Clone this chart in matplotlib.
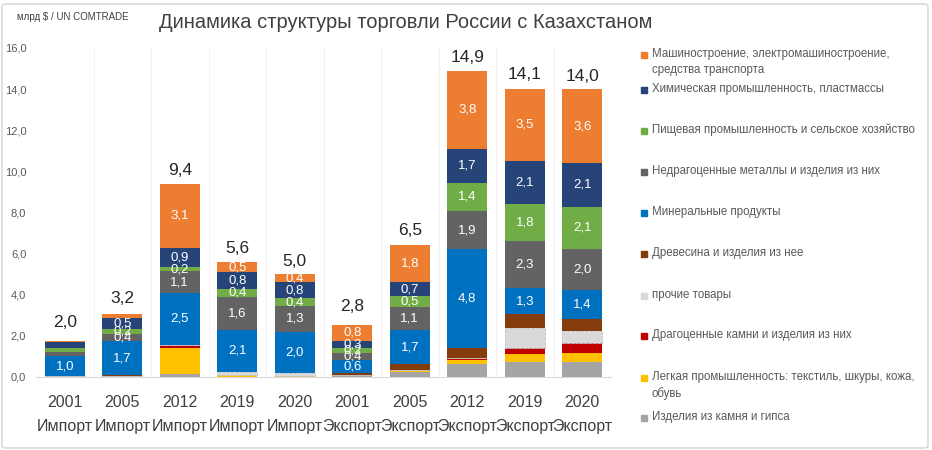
import numpy as np
import matplotlib
matplotlib.use('Agg')
import matplotlib.pyplot as plt
from matplotlib.patches import Rectangle, FancyBboxPatch

plt.rcParams['font.family'] = ['Liberation Sans', 'DejaVu Sans']

# data
bars = ['2001\nИмпорт', '2005\nИмпорт', '2012\nИмпорт', '2019\nИмпорт', '2020\nИмпорт',
        '2001\nЭкспорт', '2005\nЭкспорт', '2012\nЭкспорт', '2019\nЭкспорт', '2020\nЭкспорт']
totals = [2.0, 3.2, 9.4, 5.6, 5.0, 2.8, 6.5, 14.9, 14.1, 14.0]

stone = [0, 0, 0.16, 0, 0, 0.08, 0.24, 0.65, 0.71, 0.71]
light_ind = [0.03, 0.04, 1.27, 0.08, 0.05, 0.03, 0.08, 0.2, 0.42, 0.45]
precious = [0, 0, 0.15, 0, 0, 0, 0, 0.05, 0.29, 0.49]
other = [0, 0, 0, 0.16, 0.16, 0, 0, 0, 0.97, 0.57]
wood = [0, 0.04, 0, 0, 0, 0.1, 0.29, 0.49, 0.65, 0.62]
mineral = [1.0, 1.66, 2.5, 2.06, 1.98, 0.6, 1.69, 4.82, 1.28, 1.4]
metals = [0.2, 0.36, 1.07, 1.6, 1.27, 0.37, 1.1, 1.87, 2.27, 1.98]
food = [0.2, 0.24, 0.2, 0.4, 0.37, 0.23, 0.54, 1.36, 1.83, 2.06]
chem = [0.28, 0.52, 0.93, 0.8, 0.78, 0.34, 0.66, 1.67, 2.07, 2.14]
machinery = [0.05, 0.18, 3.13, 0.47, 0.39, 0.78, 1.8, 3.76, 3.54, 3.57]

# bottom to top
series = [
    ('Изделия из камня и гипса', stone, '#A5A5A5', False),
    ('Легкая промышленность: текстиль, шкуры, кожа,\nобувь', light_ind, '#FFC000', False),
    ('Драгоценные камни и изделия из них', precious, '#C00000', False),
    ('прочие товары', other, '#D9D9D9', False),
    ('Древесина и изделия из нее', wood, '#843C0C', False),
    ('Минеральные продукты', mineral, '#0070C0', True),
    ('Недрагоценные металлы и изделия из них', metals, '#636363', True),
    ('Пищевая промышленность и сельское хозяйство', food, '#70AD47', True),
    ('Химическая промышленность, пластмассы', chem, '#264478', True),
    ('Машиностроение, электромашиностроение,\nсредства транспорта', machinery, '#ED7D31', True),
]

fig = plt.figure(figsize=(9.32, 4.5), dpi=100)
W, H = 932, 450
ax = fig.add_axes([36 / W, 1 - 377 / H, 575 / W, 329 / H])

x = np.arange(len(bars))
bottom = np.zeros(len(bars))
for name, vals, col, lab in series:
    vals = np.array(vals, dtype=float)
    if name == 'прочие товары':
        ax.bar(x, vals, 0.69, bottom=bottom, color=col, edgecolor='#BFBFBF',
               linewidth=0.6, linestyle='--', zorder=3)
    else:
        ax.bar(x, vals, 0.69, bottom=bottom, color=col, zorder=3)
    if lab:
        for i, v in enumerate(vals):
            if v >= 0.2 and i != 0 or (i == 0 and name == 'Минеральные продукты'):
                ax.text(x[i], bottom[i] + v / 2, f'{v:.1f}'.replace('.', ','),
                        ha='center', va='center', color='white', fontsize=9.5, zorder=4)
    bottom += vals

for i, t in enumerate(totals):
    ax.annotate(f'{t:.1f}'.replace('.', ','), (x[i], t), xytext=(0, 4),
                textcoords='offset points', ha='center', va='bottom',
                fontsize=12.5, color='#262626')

ax.set_xlim(-0.5, len(bars) - 0.5)
ax.set_ylim(0, 16)
ax.set_yticks(np.arange(0, 17, 2))
ax.set_yticklabels([f'{v:.1f}'.replace('.', ',') for v in np.arange(0, 17, 2)])
ax.tick_params(axis='y', length=0, labelsize=8, labelcolor='#595959', pad=7)
ax.set_xticks(x)
ax.set_xticklabels(bars)
ax.tick_params(axis='x', length=0, labelsize=11.5, labelcolor='#404040', pad=13)
for lbl in ax.get_xticklabels():
    lbl.set_linespacing(1.75)
for xv in np.arange(0.5, len(bars) - 0.5, 1):
    ax.axvline(xv, color='#F2F2F2', linewidth=0.8, zorder=0)
for s in ['top', 'right', 'left']:
    ax.spines[s].set_visible(False)
ax.spines['bottom'].set_color('#D9D9D9')

fig.text((160 + 652) / 2 / W, 1 - 22 / H, 'Динамика структуры торговли России с Казахстаном',
         ha='center', va='center', fontsize=14.5, color='#404040')
fig.text(17 / W, 1 - 17 / H, 'млрд $ / UN COMTRADE', ha='left', va='center',
         fontsize=7, color='#404040')

# legend drawn by hand, top to bottom
leg_y = [55, 90, 131, 172, 213, 254, 296, 336, 378, 418]
for (name, vals, col, lab), yy in zip(series[::-1], leg_y):
    fig.patches.append(Rectangle((641 / W, 1 - (yy + 3) / H), 6 / W, 6 / H,
                                 transform=fig.transFigure, color=col, figure=fig))
    fig.text(652 / W, 1 - (yy - 7) / H, name, ha='left', va='top', fontsize=8.3,
             color='#595959', linespacing=1.45)

fig.patches.append(FancyBboxPatch((2 / W, 2 / H), 926 / W, 444 / H,
                                  boxstyle='round,pad=0,rounding_size=0.005',
                                  transform=fig.transFigure, fill=False,
                                  edgecolor='#D9D9D9', linewidth=1.2, figure=fig))

fig.savefig('out.png', dpi=100)
